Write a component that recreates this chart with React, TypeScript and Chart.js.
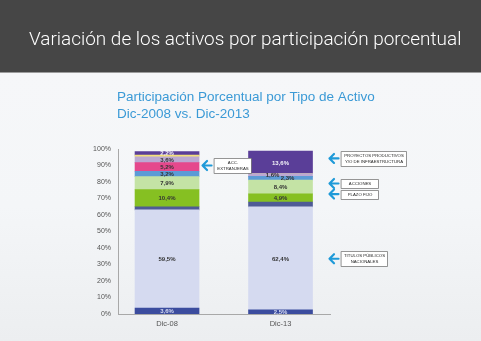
import { useEffect, useRef } from "react";
import { Chart, registerables } from "chart.js";

Chart.register(...registerables);

// ---------- data ----------
const categories = ["Dic-08", "Dic-13"];
const otros = [3.6, 2.5];
const titulosNacionales = [59.5, 62.4];
const otrosTitulos = [1.9, 3.0];
const plazoFijo = [10.4, 4.9];
const acciones = [7.9, 8.4];
const fondosComunes = [3.2, 2.3];
const accExtranjeras = [5.2, 0];
const obligaciones = [3.6, 1.6];
const otrosActivos = [1.0, 0];
const proyectos = [2.2, 13.6];
const yTicks = [0, 10, 20, 30, 40, 50, 60, 70, 80, 90, 100];

const titleText = "Variación de los activos por participación porcentual";
const subtitleLines = ["Participación Porcentual por Tipo de Activo", "Dic-2008 vs. Dic-2013"];

const annotationLines = [
  ["ACC.", "EXTRANJERAS"],
  ["PROYECTOS PRODUCTIVOS", "Y/O DE INFRAESTRUCTURA"],
  ["ACCIONES"],
  ["PLAZO FIJO"],
  ["TITULOS PÚBLICOS", "NACIONALES"],
];
const annotationCategory = [0, 1, 1, 1, 1];
const annotationValue = [90, 94.3, 79.1, 72.7, 33.5];

// ---------- styles ----------
const series = [
  { name: "Otros", data: otros, color: "#3b4c9e", label: true, labelColor: "#d8ddf3" },
  { name: "Títulos públicos nacionales", data: titulosNacionales, color: "#d5daf0", label: true, labelColor: "#333" },
  { name: "Otros títulos", data: otrosTitulos, color: "#4f5b96", label: false, labelColor: "#333" },
  { name: "Plazo fijo", data: plazoFijo, color: "#86c022", label: true, labelColor: "#333" },
  { name: "Acciones", data: acciones, color: "#c4e3a5", label: true, labelColor: "#333" },
  { name: "Fondos comunes", data: fondosComunes, color: "#5c9bd6", label: true, labelColor: "#333" },
  { name: "Acc. extranjeras", data: accExtranjeras, color: "#e5488c", label: true, labelColor: "#333" },
  { name: "Obligaciones negociables", data: obligaciones, color: "#bba9d2", label: true, labelColor: "#333" },
  { name: "Otros activos", data: otrosActivos, color: "#f3e07a", label: false, labelColor: "#333" },
  { name: "Proyectos productivos", data: proyectos, color: "#5a3e98", label: true, labelColor: "#f2f2f8" },
];
const labelNudgeX: Record<string, number> = { "7-1": -8, "5-1": 7 };

const fmt = (v: number) => v.toFixed(1).replace(".", ",") + "%";

const backgroundPlugin = {
  id: "bg",
  beforeDraw(chart: any) {
    const ctx = chart.ctx as CanvasRenderingContext2D;
    const w = chart.width;
    const h = chart.height;
    ctx.save();
    const g = ctx.createLinearGradient(0, 73, 0, h);
    g.addColorStop(0, "#f6f7f9");
    g.addColorStop(0.5, "#f4f6f8");
    g.addColorStop(1, "#eceef0");
    ctx.fillStyle = g;
    ctx.fillRect(0, 0, w, h);
    ctx.fillStyle = "#464646";
    ctx.fillRect(0, 0, w, 72);
    ctx.fillStyle = "#9c9c9c";
    ctx.fillRect(0, 72, w, 1);

    // title
    ctx.fillStyle = "#ffffff";
    ctx.textBaseline = "alphabetic";
    ctx.textAlign = "left";
    ctx.font = "300 20px Roboto";
    const tw = ctx.measureText(titleText).width;
    const size = (20 * 433) / tw;
    ctx.font = `300 ${size.toFixed(2)}px Roboto`;
    ctx.fillText(titleText, 29, 44.5);

    // subtitle
    ctx.fillStyle = "#3b9ad6";
    ctx.font = "13.5px 'Liberation Sans', Arial, sans-serif";
    ctx.fillText(subtitleLines[0], 117, 101);
    ctx.fillText(subtitleLines[1], 117, 117.5);
    ctx.restore();
  },
};

const labelsPlugin = {
  id: "segLabels",
  afterDatasetsDraw(chart: any) {
    const ctx = chart.ctx as CanvasRenderingContext2D;
    ctx.save();
    ctx.font = "bold 6px 'Liberation Sans', Arial, sans-serif";
    ctx.textAlign = "center";
    ctx.textBaseline = "middle";
    series.forEach((s, i) => {
      if (!s.label) return;
      const meta = chart.getDatasetMeta(i);
      meta.data.forEach((el: any, j: number) => {
        const v = s.data[j];
        if (!v) return;
        const p = el.getProps(["x", "y", "base"], true);
        const dx = labelNudgeX[`${i}-${j}`] || 0;
        ctx.fillStyle = s.labelColor;
        ctx.fillText(fmt(v), p.x + dx, (p.y + p.base) / 2 + 0.5);
      });
    });
    ctx.restore();
  },
};

const annotationPlugin = {
  id: "notes",
  afterDraw(chart: any) {
    const ctx = chart.ctx as CanvasRenderingContext2D;
    const yScale = chart.scales.y;
    const area = chart.chartArea;
    ctx.save();
    annotationLines.forEach((lines, k) => {
      const py = yScale.getPixelForValue(annotationValue[k]);
      let ax: number;
      if (annotationCategory[k] === 0) {
        const el = chart.getDatasetMeta(0).data[0];
        const p = el.getProps(["x", "width"], true);
        ax = p.x + p.width / 2 + 3;
      } else {
        ax = area.right - 1;
      }
      ctx.strokeStyle = "#1f9ad8";
      ctx.lineWidth = 2.2;
      ctx.lineCap = "round";
      ctx.lineJoin = "round";
      ctx.beginPath();
      ctx.moveTo(ax + 5, py - 4.5);
      ctx.lineTo(ax + 0.5, py);
      ctx.lineTo(ax + 5, py + 4.5);
      ctx.moveTo(ax + 0.5, py);
      ctx.lineTo(ax + 9.5, py);
      ctx.stroke();

      ctx.font = "4.3px 'Liberation Sans', Arial, sans-serif";
      const tw = Math.max(...lines.map((l) => ctx.measureText(l).width));
      const bw = Math.round(Math.max(tw + 5, 37));
      const bh = lines.length * 6 + 3;
      const bx = Math.round(ax + 12);
      const by = Math.round(py - bh / 2);
      ctx.fillStyle = "#ffffff";
      ctx.fillRect(bx, by, bw, bh);
      ctx.strokeStyle = "#7a7a7a";
      ctx.lineWidth = 0.8;
      ctx.strokeRect(bx + 0.5, by + 0.5, bw, bh);
      ctx.fillStyle = "#1e1e1e";
      ctx.textAlign = "center";
      ctx.textBaseline = "middle";
      lines.forEach((l, i) => ctx.fillText(l, bx + bw / 2 + 0.5, by + 4.8 + i * 6));
    });
    ctx.restore();
  },
};

export default function App() {
  const ref = useRef<HTMLCanvasElement | null>(null);

  useEffect(() => {
    if (!ref.current) return;
    const chart = new Chart(ref.current, {
      type: "bar",
      data: {
        datasets: series.map((s) => ({
          label: s.name,
          data: s.data.map((v, j) => ({ x: j, y: v })),
          backgroundColor: s.color,
          borderWidth: 0,
          barThickness: 64,
          grouped: false,
        })),
      },
      options: {
        animation: false,
        responsive: false,
        devicePixelRatio: 1,
        layout: { padding: { top: 149, right: 151, bottom: 0, left: 0 } },
        plugins: {
          legend: { display: false },
          tooltip: { enabled: false },
          title: { display: false },
        },
        scales: {
          x: {
            type: "linear",
            stacked: false,
            offset: false,
            min: -0.432,
            max: 1.436,
            grid: { display: false, drawTicks: false },
            border: { display: true, color: "#a8a8a8", width: 1 },
            afterBuildTicks: (scale: any) => {
              scale.ticks = categories.map((_, i) => ({ value: i }));
            },
            afterFit: (scale: any) => {
              scale.height = 27;
            },
            ticks: {
              padding: 5,
              color: "#555",
              font: { size: 7.5, family: "'Liberation Sans', Arial, sans-serif" },
              callback: (v: any) => categories[v as number] ?? "",
            },
          },
          y: {
            stacked: true,
            min: 0,
            max: 100,
            grid: { display: false, drawTicks: false },
            border: { display: true, color: "#a8a8a8", width: 1 },
            afterBuildTicks: (scale: any) => {
              scale.ticks = yTicks.map((v) => ({ value: v }));
            },
            afterFit: (scale: any) => {
              scale.width = 118;
            },
            ticks: {
              padding: 7,
              color: "#555",
              font: { size: 7, family: "'Liberation Sans', Arial, sans-serif" },
              callback: (v: any) => `${v}%`,
            },
          },
        },
      },
      plugins: [backgroundPlugin, labelsPlugin, annotationPlugin],
    });
    return () => chart.destroy();
  }, []);

  return (
    <div style={{ position: "fixed", left: 0, top: 0, width: 481, height: 341 }}>
      <canvas ref={ref} width={481} height={341} style={{ display: "block" }} />
    </div>
  );
}
